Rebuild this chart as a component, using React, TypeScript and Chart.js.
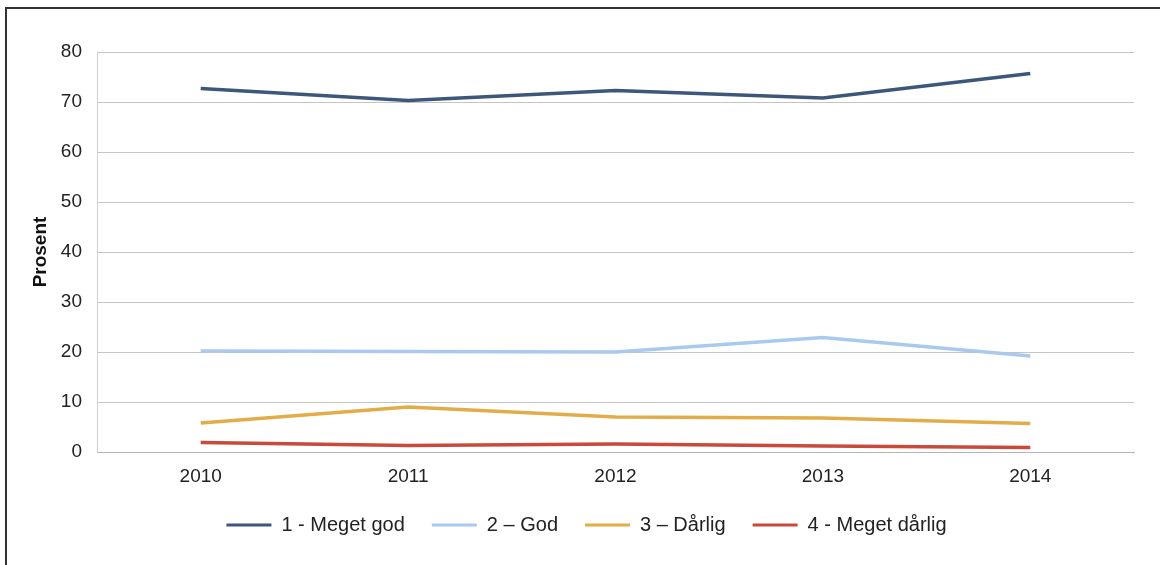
import React, { useEffect, useRef } from "react";
import { Chart, registerables } from "chart.js";

Chart.register(...registerables);

const categories = ["2010", "2011", "2012", "2013", "2014"];
const seriesLabels = ["1 - Meget god", "2 – God", "3 – Dårlig", "4 - Meget dårlig"];
const megetGod = [72.7, 70.3, 72.3, 70.8, 75.7];
const god = [20.2, 20.1, 20.0, 22.9, 19.2];
const darlig = [5.8, 9.0, 7.0, 6.8, 5.7];
const megetDarlig = [1.9, 1.3, 1.6, 1.2, 0.9];
const colors = ["#3c5779", "#a9c9ee", "#e2ad48", "#c94a3b"];

const FONT = "'Liberation Sans', Arial, sans-serif";

export default function App() {
  const ref = useRef<HTMLCanvasElement | null>(null);

  useEffect(() => {
    if (!ref.current) return;
    const values = [megetGod, god, darlig, megetDarlig];
    const chart = new Chart(ref.current, {
      type: "line",
      data: {
        labels: categories,
        datasets: values.map((v, i) => ({
          label: seriesLabels[i],
          data: v,
          borderColor: colors[i],
          backgroundColor: colors[i],
          borderWidth: 3.5,
          pointRadius: 0,
          tension: 0,
          fill: false,
        })),
      },
      options: {
        responsive: false,
        animation: false,
        layout: { padding: { left: 39, right: 26, top: 52, bottom: 20 } },
        plugins: {
          tooltip: { enabled: false },
          legend: {
            position: "bottom",
            labels: {
              boxWidth: 45,
              boxHeight: 3,
              padding: 27,
              color: "#222",
              font: { family: FONT, size: 20 },
              generateLabels: (c: any) => {
                const items = Chart.defaults.plugins.legend.labels.generateLabels(c);
                return items.map((it: any) => ({ ...it, lineWidth: 0, fillStyle: it.strokeStyle }));
              },
            },
          },
        },
        scales: {
          x: {
            offset: true,
            grid: { display: false },
            border: { display: true, color: "#b4b4b4", width: 1 },
            ticks: { color: "#222", padding: 5, font: { family: FONT, size: 19 } },
            afterFit: (s: any) => {
              s.height = 36;
            },
          },
          y: {
            min: 0,
            max: 80,
            ticks: { stepSize: 10, color: "#222", padding: 15, font: { family: FONT, size: 19 } },
            grid: { color: "#c4c4c4", lineWidth: 1, drawTicks: false },
            border: { display: true, color: "#cfcfcf", width: 1 },
            title: {
              display: true,
              text: "Prosent",
              color: "#111",
              padding: 0,
              font: { family: FONT, size: 19, weight: "bold", lineHeight: 0.2 },
            },
            afterFit: (s: any) => {
              s.width = 58;
            },
          },
        },
      },
    });
    return () => chart.destroy();
  }, []);

  return (
    <div style={{ position: "fixed", left: 0, top: 0, width: 1160, height: 565, background: "#fff" }}>
      <div
        style={{
          position: "absolute",
          left: 5,
          top: 7,
          width: 1155,
          height: 558,
          borderTop: "2px solid #333",
          borderLeft: "2px solid #333",
          boxSizing: "border-box",
        }}
      />
      <canvas ref={ref} width={1160} height={565} style={{ position: "absolute", left: 0, top: 0, display: "block" }} />
    </div>
  );
}
